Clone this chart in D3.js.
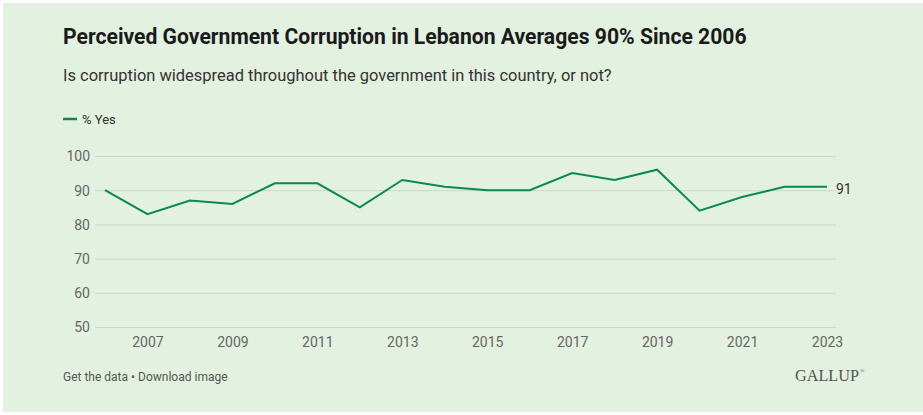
<!DOCTYPE html>
<html><head><meta charset="utf-8">
<script src="https://cdn.jsdelivr.net/npm/d3@7"></script>
<style>html,body{margin:0;padding:0;background:#fff;}svg{display:block;}</style>
</head><body>
<script>
const years = [2006,2007,2008,2009,2010,2011,2012,2013,2014,2015,2016,2017,2018,2019,2020,2021,2022,2023];
const yesValues = [90,83,87,86,92,92,85,93,91,90,90,95,93,96,84,88,91,91];
const yTicks = [50,60,70,80,90,100];
const xTicks = [2007,2009,2011,2013,2015,2017,2019,2021,2023];
const titleText = "Perceived Government Corruption in Lebanon Averages 90% Since 2006";
const subtitleText = "Is corruption widespread throughout the government in this country, or not?";
const legendLabel = "% Yes";

const W = 923, H = 415;
const green = "#0b8a4e";
const svg = d3.select("body").append("svg").attr("width", W).attr("height", H);
svg.append("rect").attr("x",3).attr("y",3).attr("width",W-3).attr("height",H-6).attr("fill","#e3f1e0");

function fit(sel, target){
  const w = sel.node().getComputedTextLength();
  const fs = parseFloat(sel.attr("font-size"));
  sel.attr("font-size", fs*target/w);
}

const title = svg.append("text").attr("x",63).attr("y",44)
  .attr("font-family","Roboto, 'Liberation Sans', sans-serif").attr("font-weight",700)
  .attr("font-size",20).attr("fill","#1a1a1a").text(titleText);
fit(title, 684);

const sub = svg.append("text").attr("x",63).attr("y",81)
  .attr("font-family","Roboto, 'Liberation Sans', sans-serif")
  .attr("font-size",16).attr("fill","#333").text(subtitleText);
fit(sub, 549);

const x = d3.scaleLinear().domain([2006,2023]).range([105,827]);
const y = d3.scaleLinear().domain([50,100]).range([327,156]);

// legend
svg.append("line").attr("x1",63).attr("x2",77).attr("y1",119).attr("y2",119).attr("stroke",green).attr("stroke-width",2.5);
svg.append("text").attr("x",82).attr("y",124).attr("font-family","Roboto, sans-serif").attr("font-size",13).attr("fill","#333").text(legendLabel);

// y grid + labels
const yAxis = d3.axisLeft(y).tickValues(yTicks).tickSize(-(836-95)).tickPadding(5);
const gy = svg.append("g").attr("transform","translate(95,0)").call(yAxis);
gy.select(".domain").remove();
gy.selectAll(".tick line").attr("stroke","#c8d9c6").attr("stroke-width",1);
gy.selectAll(".tick text").attr("font-family","Roboto, sans-serif").attr("font-size",14).attr("fill","#666").attr("dy","0.35em");

// x labels
const xAxis = d3.axisBottom(x).tickValues(xTicks).tickFormat(d3.format("d")).tickSize(0).tickPadding(8);
const gx = svg.append("g").attr("transform","translate(0,329)").call(xAxis);
gx.select(".domain").remove();
gx.selectAll(".tick text").attr("font-family","Roboto, sans-serif").attr("font-size",14).attr("fill","#666");

// line
const line = d3.line().x((d,i)=>x(years[i])).y(d=>y(d));
svg.append("path").datum(yesValues).attr("d",line).attr("fill","none").attr("stroke",green).attr("stroke-width",2).attr("stroke-linejoin","miter");

// end label
svg.append("text").attr("x",x(years[years.length-1])+9).attr("y",y(yesValues[yesValues.length-1])).attr("dy","0.55em")
  .attr("font-family","Roboto, sans-serif").attr("font-size",14).attr("fill","#333").text(yesValues[yesValues.length-1]);

// footer
svg.append("text").attr("x",63).attr("y",381).attr("font-family","Roboto, sans-serif").attr("font-size",12).attr("fill","#555").text("Get the data \u2022 Download image");
const logo = svg.append("text").attr("x",795).attr("y",381).attr("font-family","'Liberation Serif', serif").attr("font-size",15).attr("fill","#555").text("GALLUP");
fit(logo, 64);
svg.append("text").attr("x",860).attr("y",373).attr("font-family","'Liberation Serif', serif").attr("font-size",6).attr("fill","#555").text("\u00AE");
</script>
</body></html>
